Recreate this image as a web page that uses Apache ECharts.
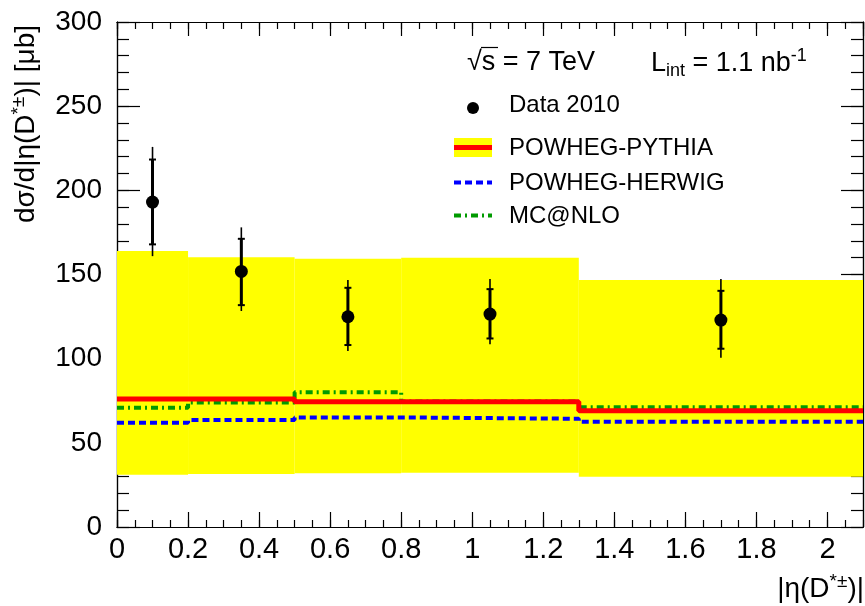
<!DOCTYPE html>
<html>
<head>
<meta charset="utf-8">
<script src="https://cdn.jsdelivr.net/npm/echarts@6/dist/echarts.min.js"></script>
<style>
html,body{margin:0;padding:0;background:#fff;}
#c{width:865px;height:606px;}
</style>
</head>
<body>
<div id="c"></div>
<script>
// ---- data ----
var binEdges = [0, 0.2, 0.5, 0.8, 1.3, 2.1];
var bandLow  = [31, 31.5, 31.9, 32.3, 29.9];
var bandHigh = [164, 160.2, 159.3, 160, 146.7];
var pythia   = [76, 76, 74.4, 74.4, 69];
var herwig   = [62, 63.5, 65.1, 64.3, 62.5];
var mcnlo    = [70.9, 74, 80, 74.5, 71.1];

var dataX      = [0.1, 0.35, 0.65, 1.05, 1.7];
var dataY      = [193, 151.8, 124.9, 126.5, 122.9];
var statLow    = [167.9, 131.8, 108.1, 112, 105.9];
var statHigh   = [218.3, 171.2, 142.1, 141.3, 140.3];
var totLow     = [160.9, 128.3, 104.5, 108.5, 100.5];
var totHigh    = [225.8, 178, 146.7, 147.3, 147.3];

var FONT = 'Liberation Sans, Arial, Helvetica, sans-serif';

function stepData(vals) {
  return binEdges.map(function (e, i) { return [e, vals[Math.min(i, vals.length - 1)]]; });
}
var bandData = bandLow.map(function (lo, i) { return [binEdges[i], binEdges[i + 1], lo, bandHigh[i]]; });
var errData = dataX.map(function (x, i) { return [x, totLow[i], totHigh[i], statLow[i], statHigh[i]]; });
var pointData = dataX.map(function (x, i) { return [x, dataY[i]]; });

var chart = echarts.init(document.getElementById('c'), null, {renderer: 'canvas'});

var axisLine = {show: true, onZero: false, lineStyle: {color: '#000', width: 1.2}};
function xAx(pos, interval, tickLen, showLabel) {
  return {
    type: 'value', position: pos, min: 0, max: 2.1, interval: interval,
    axisLine: axisLine,
    axisTick: {show: true, inside: true, length: tickLen, lineStyle: {color: '#000', width: 1.2}},
    axisLabel: {show: showLabel, fontSize: 29, color: '#000', fontFamily: FONT, margin: 8, showMaxLabel: false},
    splitLine: {show: false}
  };
}
function yAx(pos, interval, tickLen, showLabel) {
  return {
    type: 'value', position: pos, min: 0, max: 300, interval: interval,
    axisLine: axisLine,
    axisTick: {show: true, inside: true, length: tickLen, lineStyle: {color: '#000', width: 1.2}},
    axisLabel: {show: showLabel, fontSize: 28, color: '#000', fontFamily: FONT, margin: 15},
    splitLine: {show: false}
  };
}

var option = {
  backgroundColor: '#fff',
  animation: false,
  grid: {left: 117, right: 2, top: 22, bottom: 79, containLabel: false},
  xAxis: [
    xAx('bottom', 0.2, 15, true),
    xAx('bottom', 0.05, 7, false),
    xAx('top', 0.2, 14, false),
    xAx('top', 0.05, 7, false)
  ],
  yAxis: [
    yAx('left', 50, 23, true),
    yAx('left', 10, 12, false),
    yAx('right', 50, 22, false),
    yAx('right', 10, 12, false)
  ],
  series: [
    {
      type: 'custom', name: 'band', xAxisIndex: 0, yAxisIndex: 0, clip: true,
      data: bandData,
      renderItem: function (params, api) {
        var p1 = api.coord([api.value(0), api.value(3)]);
        var p2 = api.coord([api.value(1), api.value(2)]);
        return {type: 'rect', shape: {x: p1[0], y: p1[1], width: p2[0] - p1[0], height: p2[1] - p1[1]},
                style: {fill: '#ffff00'}};
      },
      z: 1
    },
    {
      type: 'line', name: 'MC@NLO', step: 'end', data: stepData(mcnlo), showSymbol: false,
      lineStyle: {color: '#009a00', width: 4, type: [7, 4, 2, 4]}, z: 2
    },
    {
      type: 'line', name: 'POWHEG-HERWIG', step: 'end', data: stepData(herwig), showSymbol: false,
      lineStyle: {color: '#0000ff', width: 4, type: [7, 4]}, z: 3
    },
    {
      type: 'line', name: 'POWHEG-PYTHIA', step: 'end', data: stepData(pythia), showSymbol: false,
      lineStyle: {color: '#ff0000', width: 5}, z: 4
    },
    {
      type: 'custom', name: 'errors', clip: true, data: errData, z: 5,
      renderItem: function (params, api) {
        var x = api.value(0);
        var a = api.coord([x, api.value(1)]);
        var b = api.coord([x, api.value(2)]);
        var c = api.coord([x, api.value(3)]);
        var d = api.coord([x, api.value(4)]);
        var thin = {stroke: '#000', lineWidth: 1.6};
        var thick = {stroke: '#000', lineWidth: 3};
        var cap = {stroke: '#000', lineWidth: 2};
        return {type: 'group', children: [
          {type: 'line', shape: {x1: a[0], y1: a[1], x2: b[0], y2: b[1]}, style: thin},
          {type: 'line', shape: {x1: c[0], y1: c[1], x2: d[0], y2: d[1]}, style: thick},
          {type: 'line', shape: {x1: c[0] - 3.5, y1: c[1], x2: c[0] + 3.5, y2: c[1]}, style: cap},
          {type: 'line', shape: {x1: d[0] - 3.5, y1: d[1], x2: d[0] + 3.5, y2: d[1]}, style: cap}
        ]};
      }
    },
    {
      type: 'scatter', name: 'Data 2010', data: pointData, symbol: 'circle', symbolSize: 13,
      itemStyle: {color: '#000', opacity: 1}, z: 6
    }
  ],
  graphic: [
    // y axis title
    {type: 'text', x: 25, y: 124, rotation: Math.PI / 2,
     style: {text: '{a|dσ/d|η(D}{s|*±}{a|)| [μb]}', align: 'center', verticalAlign: 'middle', fill: '#000',
       rich: {a: {fontSize: 28, fontFamily: FONT, fill: '#000', verticalAlign: 'bottom', lineHeight: 31},
              s: {fontSize: 19, fontFamily: FONT, fill: '#000', verticalAlign: 'top', lineHeight: 31, padding: [0,0,10,0]}}}},
    // x axis title
    {type: 'text', x: 864, y: 588,
     style: {text: '{a||η(D}{s|*±}{a|)|}', align: 'right', verticalAlign: 'middle', fill: '#000',
       rich: {a: {fontSize: 28, fontFamily: FONT, fill: '#000', verticalAlign: 'bottom', lineHeight: 31},
              s: {fontSize: 19, fontFamily: FONT, fill: '#000', verticalAlign: 'top', lineHeight: 31, padding: [0,0,10,0]}}}},
    // sqrt s
    {type: 'text', x: 467, y: 63,
     style: {text: '√s = 7 TeV', fontSize: 27, fontFamily: FONT, fill: '#000', align: 'left', verticalAlign: 'middle'}},
    {type: 'line', shape: {x1: 481, y1: 47.5, x2: 498, y2: 47.5}, style: {stroke: '#000', lineWidth: 1.2}},
    {type: 'text', x: 651, y: 64,
     style: {text: '{a|L}{b|int}{a| = 1.1 nb}{c|-1}', align: 'left', verticalAlign: 'middle', fill: '#000',
       rich: {a: {fontSize: 27, fontFamily: FONT, fill: '#000', lineHeight: 30},
              b: {fontSize: 18, fontFamily: FONT, fill: '#000', lineHeight: 30, padding: [15, 0, 0, 0]},
              c: {fontSize: 18, fontFamily: FONT, fill: '#000', lineHeight: 30, padding: [0, 0, 15, 0]}}}},
    // legend
    {type: 'circle', shape: {cx: 473, cy: 108, r: 6}, style: {fill: '#000'}},
    {type: 'text', x: 509, y: 105, style: {text: 'Data 2010', fontSize: 24, fontFamily: FONT, fill: '#000', verticalAlign: 'middle'}},
    {type: 'rect', shape: {x: 454, y: 138, width: 38, height: 19}, style: {fill: '#ffff00'}},
    {type: 'line', shape: {x1: 454, y1: 147.5, x2: 492, y2: 147.5}, style: {stroke: '#ff0000', lineWidth: 5}},
    {type: 'text', x: 509, y: 148, style: {text: 'POWHEG-PYTHIA', fontSize: 24, fontFamily: FONT, fill: '#000', verticalAlign: 'middle'}},
    {type: 'line', shape: {x1: 454, y1: 182.5, x2: 492, y2: 182.5}, style: {stroke: '#0000ff', lineWidth: 4, lineDash: [7, 4]}},
    {type: 'text', x: 509, y: 183, style: {text: 'POWHEG-HERWIG', fontSize: 24, fontFamily: FONT, fill: '#000', verticalAlign: 'middle'}},
    {type: 'line', shape: {x1: 454, y1: 215.5, x2: 492, y2: 215.5}, style: {stroke: '#009a00', lineWidth: 4, lineDash: [7, 4, 2, 4]}},
    {type: 'text', x: 509, y: 216, style: {text: 'MC@NLO', fontSize: 24, fontFamily: FONT, fill: '#000', verticalAlign: 'middle'}}
  ]
};
chart.setOption(option);
</script>
</body>
</html>
